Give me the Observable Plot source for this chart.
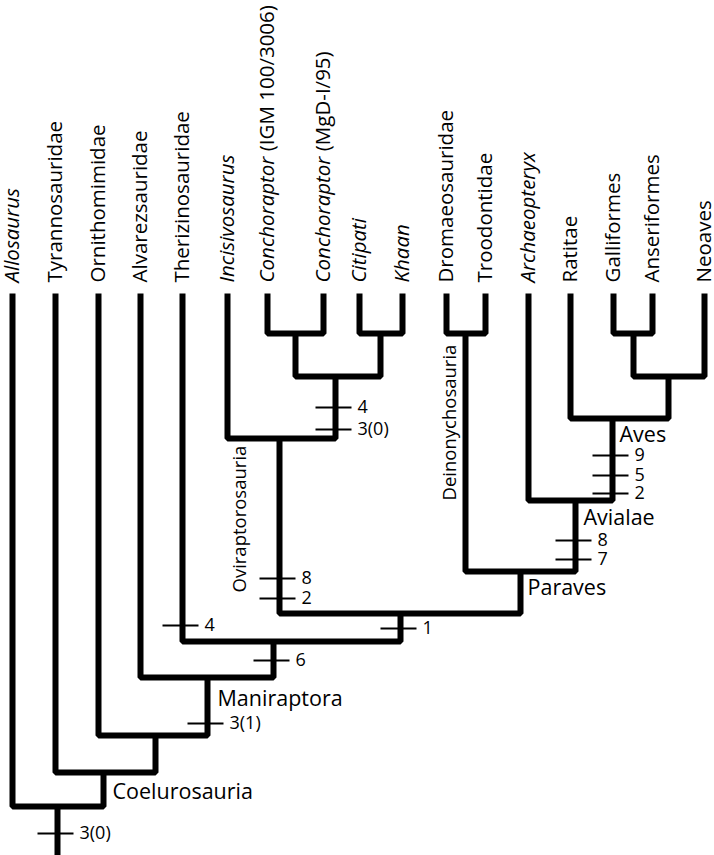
<!DOCTYPE html>
<html><head><meta charset="utf-8">
<script src="https://cdn.jsdelivr.net/npm/d3@7"></script>
<script src="https://cdn.jsdelivr.net/npm/@observablehq/plot@0.6"></script>
<style>body{margin:0;background:#fff} svg{display:block}</style>
</head><body><div id="chart"></div>
<script>
// Terminal taxa (left to right), their positions along the tip row, and italic flag
const taxa = ["Allosaurus","Tyrannosauridae","Ornithomimidae","Alvarezsauridae","Therizinosauridae","Incisivosaurus","Conchoraptor (IGM 100/3006)","Conchoraptor (MgD-I/95)","Citipati","Khaan","Dromaeosauridae","Troodontidae","Archaeopteryx","Ratitae","Galliformes","Anseriformes","Neoaves"];
const taxonPos = [12,55,98,140,182,227,267,323,359,402,446,485,528,570,613,652,704];
const taxonItalic = [true,false,false,false,false,true,true,true,true,true,false,false,true,false,false,false,false];
const tipDepth = 293;

// Internal clades: id, position, depth of the joining bar, children
const cladeIds = ["c1","c2","c3","c4","c5","c6","c7","c8","c9","c10","c11","c12","c13","c14","c15","c16"];
const cladePos = [295,380,335,279,465,633,668,612,575,520,400,273,207,155,103,57];
const cladeDepth = [333,333,376,438,333,333,376,418,500,571,613,641,677,735,772,806];
const cladeChildren = [
  ["Conchoraptor (IGM 100/3006)","Conchoraptor (MgD-I/95)"],
  ["Citipati","Khaan"],
  ["c1","c2"],
  ["Incisivosaurus","c3"],
  ["Dromaeosauridae","Troodontidae"],
  ["Galliformes","Anseriformes"],
  ["c6","Neoaves"],
  ["Ratitae","c7"],
  ["Archaeopteryx","c8"],
  ["c5","c9"],
  ["c4","c10"],
  ["Therizinosauridae","c11"],
  ["Alvarezsauridae","c12"],
  ["Ornithomimidae","c13"],
  ["Tyrannosauridae","c14"],
  ["Allosaurus","c15"]
];
const rootBase = 855;

// Named clades (horizontal labels on stems)
const cladeNames = ["Coelurosauria","Maniraptora","Paraves","Avialae","Aves"];
const cladeNamePos = [112,217,527,583,619];
const cladeNameDepth = [792,699,588,518,435];

// Named clades (vertical labels)
const sideNames = ["Oviraptorosauria","Deinonychosauria"];
const sideNamePos = [240,450];
const sideNameDepth = [592,500];

// Character state changes (tick marks on branches)
const charLabels = ["3(0)","3(1)","6","4","1","8","2","4","3(0)","8","7","9","5","2"];
const charPos = [57,207,273,182,400,279,279,335,335,575,575,612,612,612];
const charDepth = [833,723,660,625,628,578,598,407,429,540,559,455,475,493];

// ---- build geometry
const info = new Map();
taxa.forEach((t,i)=>info.set(t,{pos:taxonPos[i],top:tipDepth}));
cladeIds.forEach((c,i)=>info.set(c,{pos:cladePos[i],top:cladeDepth[i]}));
const pts = [];
cladeIds.forEach((c,i)=>{
  const [a,b] = cladeChildren[i].map(k=>info.get(k));
  const d = cladeDepth[i];
  pts.push({z:c,x:a.pos,y:a.top},{z:c,x:a.pos,y:d},{z:c,x:b.pos,y:d},{z:c,x:b.pos,y:b.top});
});
const rootI = cladeIds.length-1;
pts.push({z:"root",x:cladePos[rootI],y:cladeDepth[rootI]},{z:"root",x:cladePos[rootI],y:rootBase});

const leaves = taxa.map((t,i)=>({name:t,x:taxonPos[i],italic:taxonItalic[i]}));
const ticks = charLabels.map((l,i)=>({label:l,x:charPos[i],y:charDepth[i]}));
const names = cladeNames.map((n,i)=>({name:n,x:cladeNamePos[i],y:cladeNameDepth[i]}));
const sides = sideNames.map((n,i)=>({name:n,x:sideNamePos[i],y:sideNameDepth[i]}));

const font = "'Open Sans', sans-serif";
const plot = Plot.plot({
  width:714, height:855, margin:0,
  x:{domain:[0,714], range:[0,714], axis:null},
  y:{domain:[0,855], range:[0,855], axis:null},
  style:{fontFamily:font, background:"#fff"},
  marks:[
    Plot.line(pts,{x:"x",y:"y",z:"z",stroke:"black",strokeWidth:6,strokeLinejoin:"miter",strokeLinecap:"butt"}),
    Plot.link(ticks,{x1:d=>d.x-20,x2:d=>d.x+16,y1:"y",y2:"y",stroke:"black",strokeWidth:2}),
    Plot.text(ticks,{x:d=>d.x+22,y:"y",text:"label",textAnchor:"start",fontSize:18,fill:"black"}),
    Plot.text(leaves.filter(d=>d.italic),{x:"x",y:282,text:"name",rotate:-90,textAnchor:"start",fontSize:20.5,fontStyle:"italic",fill:"black"}),
    Plot.text(leaves.filter(d=>!d.italic),{x:"x",y:282,text:"name",rotate:-90,textAnchor:"start",fontSize:20.5,fill:"black"}),
    Plot.text(names,{x:"x",y:"y",text:"name",textAnchor:"start",fontSize:21.5,fill:"black"}),
    Plot.text(sides,{x:"x",y:"y",text:"name",rotate:-90,textAnchor:"start",fontSize:18.5,fill:"black"})
  ]
});
// Genus name italic, specimen number roman
plot.querySelectorAll("text").forEach(t=>{
  const s = t.textContent;
  const m = s.match(/^(Conchoraptor) (\(.*\))$/);
  if(m){
    t.textContent = "";
    const ns = "http://www.w3.org/2000/svg";
    const a = document.createElementNS(ns,"tspan"); a.textContent = m[1]; a.setAttribute("font-style","italic");
    const b = document.createElementNS(ns,"tspan"); b.textContent = " "+m[2]; b.setAttribute("font-style","normal");
    t.appendChild(a); t.appendChild(b);
  }
});
document.getElementById("chart").appendChild(plot);
</script></body></html>
